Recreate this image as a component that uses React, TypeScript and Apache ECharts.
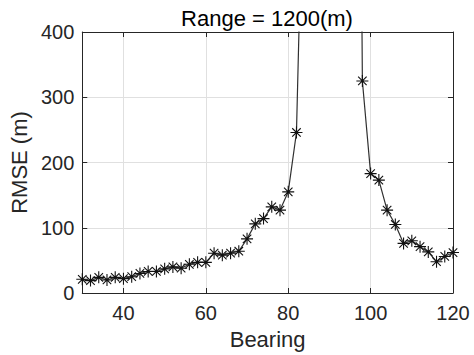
import React, { useEffect, useRef } from "react";
import * as echarts from "echarts";

const bearings = [
  30, 32, 34, 36, 38, 40, 42, 44, 46, 48, 50, 52, 54, 56, 58, 60, 62, 64, 66, 68,
  70, 72, 74, 76, 78, 80, 82, 84, 86, 88, 90, 92, 94, 96, 98, 100, 102, 104, 106,
  108, 110, 112, 114, 116, 118, 120,
];
const rmse: (number | null)[] = [
  21, 19, 24, 20, 24, 22, 25, 30, 33, 33, 37, 40, 38, 44, 47, 47, 61, 58, 61, 64,
  83, 106, 114, 132, 127, 155, 246, 760, null, null, null, null, null, 2000, 325,
  183, 173, 127, 105, 76, 80, 71, 63, 48, 56, 62,
];
const xTicks = [40, 60, 80, 100, 120];
const titleText = "Range = 1200(m)";
const xName = "Bearing";
const yName = "RMSE (m)";

const FONT = "Liberation Sans, Arial, Helvetica, sans-serif";
const AX = "#262626";

export default function App() {
  const ref = useRef<HTMLDivElement>(null);
  useEffect(() => {
    if (!ref.current) return;
    const chart = echarts.init(ref.current, undefined, { renderer: "svg" });
    const data = bearings.map((b, i) => [b, rmse[i]]);
    const asterisk =
      "path://M0,-10L0,10M-10,0L10,0M-7.07,-7.07L7.07,7.07M-7.07,7.07L7.07,-7.07";
    chart.setOption({
      animation: false,
      backgroundColor: "#ffffff",
      textStyle: { fontFamily: FONT },
      graphic: [
        {
          type: "text",
          x: 267,
          y: 18,
          style: {
            text: titleText,
            fill: "#000",
            font: `22px ${FONT}`,
            align: "center",
            verticalAlign: "middle",
          },
        },
      ],
      grid: { left: 81, right: 21, top: 32, bottom: 60, containLabel: false },
      xAxis: [
        {
          type: "value",
          min: 30,
          max: 120,
          name: xName,
          nameLocation: "middle",
          nameGap: 35,
          nameTextStyle: { fontSize: 22, color: AX, fontFamily: FONT },
          axisLine: { show: true, onZero: false, lineStyle: { color: AX, width: 1 } },
          axisTick: { show: true, inside: true, length: 5, customValues: xTicks, lineStyle: { color: AX } },
          axisLabel: { customValues: xTicks, fontSize: 20, color: AX, margin: 10, fontFamily: FONT },
          splitLine: { show: true, lineStyle: { color: "#e0e0e0", width: 1 } },
        },
        {
          type: "value",
          position: "top",
          min: 30,
          max: 120,
          axisLine: { show: true, onZero: false, lineStyle: { color: AX, width: 1 } },
          axisTick: { show: true, inside: true, length: 5, customValues: xTicks, lineStyle: { color: AX } },
          axisLabel: { show: false },
          splitLine: { show: false },
        },
      ],
      yAxis: [
        {
          type: "value",
          min: 0,
          max: 400,
          interval: 100,
          name: yName,
          nameLocation: "middle",
          nameGap: 39,
          nameTextStyle: { fontSize: 22, color: AX, fontFamily: FONT },
          axisLine: { show: true, onZero: false, lineStyle: { color: AX, width: 1 } },
          axisTick: { show: true, inside: true, length: 5, lineStyle: { color: AX } },
          axisLabel: { fontSize: 20, color: AX, margin: 8, fontFamily: FONT },
          splitLine: { show: true, lineStyle: { color: "#e0e0e0", width: 1 } },
        },
        {
          type: "value",
          position: "right",
          min: 0,
          max: 400,
          interval: 100,
          axisLine: { show: true, onZero: false, lineStyle: { color: AX, width: 1 } },
          axisTick: { show: true, inside: true, length: 5, lineStyle: { color: AX } },
          axisLabel: { show: false },
          splitLine: { show: false },
        },
      ],
      series: [
        {
          type: "line",
          data,
          xAxisIndex: 0,
          yAxisIndex: 0,
          clip: true,
          connectNulls: false,
          symbol: asterisk,
          symbolSize: 12,
          showAllSymbol: true,
          lineStyle: { color: "#303030", width: 1.2 },
          itemStyle: { color: "rgba(0,0,0,0)", borderColor: "#111", borderWidth: 1.1 },
          emphasis: { disabled: true },
        },
      ],
    });
    return () => chart.dispose();
  }, []);
  return (
    <div
      ref={ref}
      style={{ position: "fixed", left: 0, top: 0, width: 474, height: 355, background: "#fff" }}
    />
  );
}
